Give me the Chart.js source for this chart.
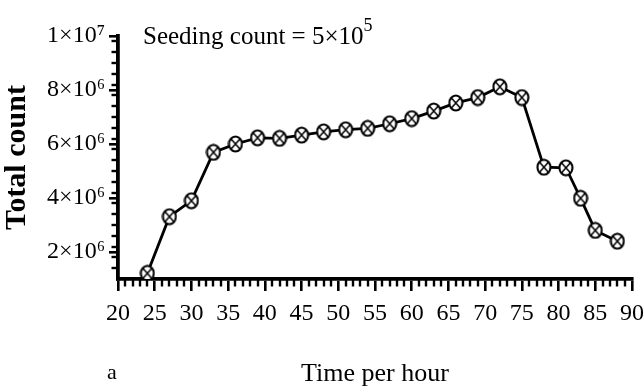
<!DOCTYPE html>
<html>
<head>
<meta charset="utf-8">
<script src="https://cdn.jsdelivr.net/npm/chart.js@4.4.1/dist/chart.umd.min.js"></script>
<style>
  html, body { margin: 0; padding: 0; background: #ffffff; }
  canvas { display: block; }
</style>
</head>
<body>
<canvas id="c" width="643" height="388"></canvas>
<script>
// ---- data ----
const hours = [24, 27, 30, 33, 36, 39, 42, 45, 48, 51, 54, 57, 60, 63, 66, 69, 72, 75, 78, 81, 83, 85, 88];
const totalCount = [1.21e6, 3.31e6, 3.90e6, 5.69e6, 6.00e6, 6.23e6, 6.21e6, 6.33e6, 6.45e6, 6.53e6, 6.58e6, 6.75e6, 6.94e6, 7.22e6, 7.52e6, 7.72e6, 8.12e6, 7.72e6, 5.14e6, 5.12e6, 3.99e6, 2.80e6, 2.40e6];
const xTickValues = [20, 25, 30, 35, 40, 45, 50, 55, 60, 65, 70, 75, 80, 85, 90];
const yTickValues = [2e6, 4e6, 6e6, 8e6, 1e7];
const yTickLabels = ['2×10⁶', '4×10⁶', '6×10⁶', '8×10⁶', '1×10⁷'];
const xMinorStep = 1;
const yMinorStep = 4e5;

const SERIF = '"Liberation Serif", "Times New Roman", "DejaVu Serif", serif';

// marker: circle with an X inside
function makeMarker() {
  const w = 16, h = 18;
  const cv = document.createElement('canvas');
  cv.width = w; cv.height = h;
  const g = cv.getContext('2d');
  const cx = w / 2, cy = h / 2, rx = 6.5, ry = 7.5;
  g.beginPath();
  g.ellipse(cx, cy, rx, ry, 0, 0, Math.PI * 2);
  g.fillStyle = '#ffffff';
  g.fill();
  g.lineWidth = 2.1;
  g.strokeStyle = '#000000';
  g.stroke();
  const dx = rx * 0.68, dy = ry * 0.68;
  g.lineWidth = 1.5;
  g.beginPath();
  g.moveTo(cx - dx, cy - dy); g.lineTo(cx + dx, cy + dy);
  g.moveTo(cx + dx, cy - dy); g.lineTo(cx - dx, cy + dy);
  g.stroke();
  return cv;
}
const marker = makeMarker();

const extras = {
  id: 'extras',
  afterDraw(chart) {
    const ctx = chart.ctx;
    const xs = chart.scales.x, ys = chart.scales.y;
    const area = chart.chartArea;
    ctx.save();
    ctx.strokeStyle = '#000000';
    ctx.lineWidth = 2.4;
    // minor ticks on x
    for (let v = xs.min + xMinorStep; v < xs.max; v += xMinorStep) {
      if (Math.abs(v % 5) < 1e-9) continue;
      const px = Math.round(xs.getPixelForValue(v));
      ctx.beginPath();
      ctx.moveTo(px, area.bottom);
      ctx.lineTo(px, area.bottom + 7.5);
      ctx.stroke();
    }
    // minor ticks on y
    for (let v = ys.min + yMinorStep; v < ys.max - 1; v += yMinorStep) {
      const r = v / 2e6;
      if (Math.abs(r - Math.round(r)) < 1e-6) continue;
      const py = Math.round(ys.getPixelForValue(v));
      ctx.beginPath();
      ctx.moveTo(area.left, py);
      ctx.lineTo(area.left - 6.5, py);
      ctx.stroke();
    }
    // annotation
    ctx.fillStyle = '#000000';
    ctx.textBaseline = 'alphabetic';
    ctx.textAlign = 'left';
    ctx.font = '25px ' + SERIF;
    const main = 'Seeding count = 5×10';
    ctx.fillText(main, 143, 44);
    const w = ctx.measureText(main).width;
    ctx.font = '18px ' + SERIF;
    ctx.fillText('5', 143 + w, 31);
    // panel letter
    ctx.font = '22px ' + SERIF;
    ctx.fillText('a', 107, 379);
    ctx.restore();
  }
};

new Chart(document.getElementById('c'), {
  type: 'line',
  data: {
    datasets: [{
      data: hours.map((h, i) => ({ x: h, y: totalCount[i] })),
      borderColor: '#000000',
      borderWidth: 2.8,
      pointStyle: marker,
      pointRadius: 8,
      tension: 0,
      fill: false
    }]
  },
  plugins: [extras],
  options: {
    responsive: false,
    animation: false,
    devicePixelRatio: 1,
    layout: { padding: { top: 36, right: 11, left: 0, bottom: 0 } },
    plugins: { legend: { display: false }, tooltip: { enabled: false } },
    scales: {
      x: {
        type: 'linear',
        position: 'bottom',
        min: 20,
        max: 90,
        afterBuildTicks: (s) => { s.ticks = xTickValues.map(v => ({ value: v })); },
        afterFit: (s) => { s.height = 109; s.paddingRight = 0; s.paddingLeft = 0; },
        ticks: {
          color: '#000000',
          font: { family: SERIF, size: 24 },
          padding: 8,
          maxRotation: 0,
          autoSkip: false
        },
        grid: {
          display: true,
          drawOnChartArea: false,
          drawTicks: true,
          tickLength: 12,
          lineWidth: 2.6,
          color: '#000000'
        },
        border: { display: true, color: '#000000', width: 3.8 },
        title: {
          display: true,
          text: 'Time per hour',
          color: '#000000',
          font: { family: SERIF, size: 26, lineHeight: 1.1 },
          padding: 0
        }
      },
      y: {
        type: 'linear',
        min: 1e6,
        max: 1e7,
        afterBuildTicks: (s) => { s.ticks = yTickValues.map(v => ({ value: v })); },
        afterFit: (s) => { s.width = 118; s.paddingTop = 0; s.paddingBottom = 0; },
        ticks: {
          color: '#000000',
          font: { family: SERIF, size: 24 },
          padding: 4,
          callback: (v) => {
            const i = yTickValues.indexOf(v);
            return i >= 0 ? yTickLabels[i] : '';
          }
        },
        grid: {
          display: true,
          drawOnChartArea: false,
          drawTicks: true,
          tickLength: 9,
          lineWidth: 2.6,
          color: '#000000'
        },
        border: { display: true, color: '#000000', width: 3.8 },
        title: {
          display: true,
          text: 'Total count',
          color: '#000000',
          font: { family: SERIF, size: 30, weight: 'bold', lineHeight: 1.15 },
          padding: 0
        }
      }
    }
  }
});
</script>
</body>
</html>
